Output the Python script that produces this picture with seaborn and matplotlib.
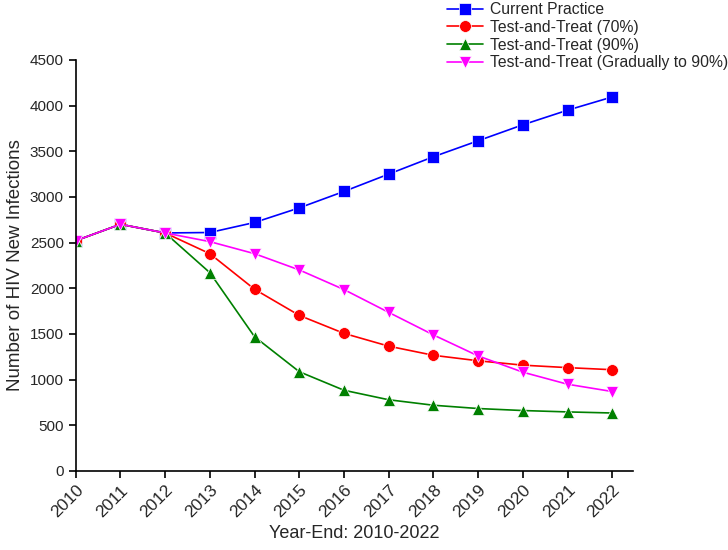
import pandas as pd
import numpy as np
import matplotlib
matplotlib.use('Agg')
import matplotlib.pyplot as plt
import seaborn as sns

years = list(range(2010, 2023))
current_practice = [2520, 2700, 2605, 2610, 2720, 2880, 3060, 3250, 3440, 3615, 3790, 3950, 4095]
tt_70 = [2520, 2700, 2605, 2378, 1988, 1702, 1505, 1365, 1265, 1205, 1157, 1130, 1107]
tt_90 = [2520, 2700, 2605, 2170, 1468, 1085, 882, 778, 718, 682, 660, 645, 633]
tt_gradual = [2520, 2700, 2605, 2510, 2378, 2200, 1985, 1735, 1488, 1258, 1080, 948, 868]

scenarios = ['Current Practice', 'Test-and-Treat (70%)', 'Test-and-Treat (90%)',
             'Test-and-Treat (Gradually to 90%)']
colors = ['#0000FF', '#FF0000', '#008000', '#FF00FF']
markers = ['s', 'o', '^', 'v']

df = pd.DataFrame({
    'Year': years * 4,
    'Value': current_practice + tt_70 + tt_90 + tt_gradual,
    'Scenario': np.repeat(scenarios, len(years)),
})

sns.set_style('ticks')
plt.rcParams['font.family'] = ['Liberation Sans', 'DejaVu Sans']

fig = plt.figure(figsize=(7.28, 5.5), dpi=100)
ax = fig.add_axes([0.104, 0.144, 0.766, 0.747])

sns.lineplot(data=df, x='Year', y='Value', hue='Scenario', style='Scenario',
             hue_order=scenarios, style_order=scenarios, palette=colors,
             markers=markers, dashes=False, markersize=8.5, linewidth=1.2,
             markeredgewidth=0.5, ax=ax, legend=True)

ax.set_xlim(2010, 2022.47)
ax.set_ylim(0, 4500)
ax.set_xticks(years)
ax.set_yticks(range(0, 4501, 500))
ax.set_xticklabels([str(y) for y in years], rotation=45, ha='right',
                   rotation_mode='anchor')
ax.tick_params(axis='both', direction='out', length=5, width=1.2,
               labelsize=11, color='black')
ax.tick_params(axis='x', labelsize=12.5)
for s in ['left', 'bottom']:
    ax.spines[s].set_linewidth(1.2)
    ax.spines[s].set_color('black')
sns.despine(ax=ax)
ax.set_xlabel('Year-End: 2010-2022', fontsize=13, labelpad=3)
ax.set_ylabel('Number of HIV New Infections', fontsize=13.5, labelpad=4)

handles, labels = ax.get_legend_handles_labels()
ax.get_legend().remove()
fig.legend(handles, labels, loc='upper left', bbox_to_anchor=(0.595, 1.022),
           frameon=False, fontsize=11.3, handlelength=2.3, labelspacing=0.18,
           handletextpad=0.4)

fig.savefig('out.png', dpi=100)
